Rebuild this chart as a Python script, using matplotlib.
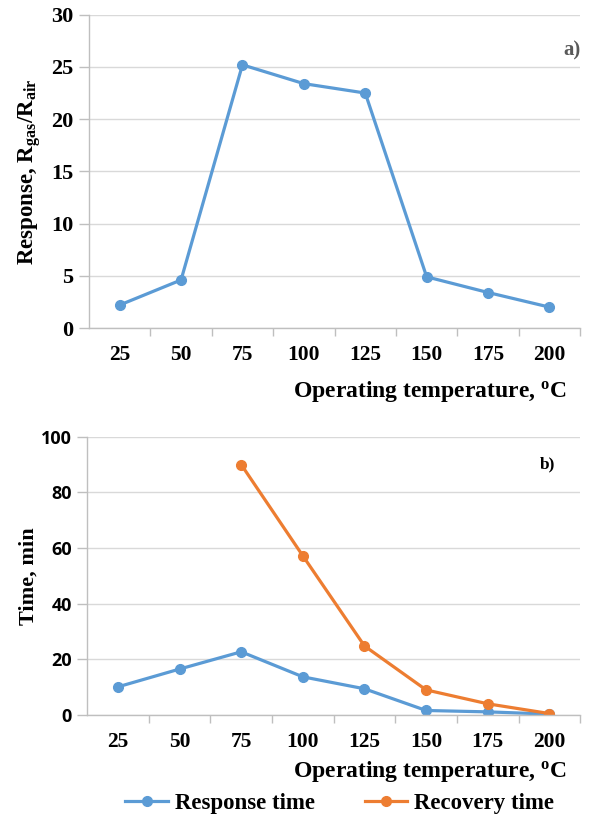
#!/usr/bin/env python3
"""Gas sensor response and response/recovery time vs operating temperature."""

import matplotlib.pyplot as plt
from matplotlib.lines import Line2D

plt.rcParams["mathtext.fontset"] = "custom"
plt.rcParams["mathtext.rm"] = "Liberation Serif:bold"
plt.rcParams["mathtext.it"] = "Liberation Serif:bold:italic"
plt.rcParams["mathtext.bf"] = "Liberation Serif:bold"

temps = ["25", "50", "75", "100", "125", "150", "175", "200"]
response = [2.2, 4.6, 25.2, 23.4, 22.5, 4.9, 3.4, 2.0]
response_time = [10.1, 16.5, 22.7, 13.7, 9.4, 1.6, 1.1, 0.3]
recovery_temps = ["75", "100", "125", "150", "175", "200"]
recovery_time = [90.0, 57.2, 24.8, 9.0, 4.0, 0.5]

BLUE = "#5B9BD5"
ORANGE = "#ED7D31"
GRID = "#d9d9d9"
AXIS = "#bfbfbf"
SERIF = "Liberation Serif"


def style_axes(ax, ylim, yticks, ytick_family, ytick_size):
    ax.set_xlim(-0.5, len(temps) - 0.5)
    ax.set_ylim(*ylim)
    ax.set_yticks(yticks)
    ax.set_xticks(range(len(temps)))
    ax.set_xticklabels(temps, family=SERIF, weight="bold", fontsize=15.5)
    ax.set_xticks([i + 0.5 for i in range(len(temps))], minor=True)
    ax.tick_params(axis="x", which="major", length=0, pad=12)
    ax.tick_params(axis="x", which="minor", length=6, color=AXIS, width=1)
    ax.tick_params(axis="y", length=7, color=AXIS, width=1, pad=4)
    for lab in ax.get_yticklabels():
        lab.set_family(ytick_family)
        lab.set_weight("bold")
        lab.set_fontsize(ytick_size)
    ax.grid(axis="y", color=GRID, linewidth=1)
    ax.set_axisbelow(True)
    for side in ("top", "right"):
        ax.spines[side].set_visible(False)
    for side in ("left", "bottom"):
        ax.spines[side].set_color(AXIS)
        ax.spines[side].set_linewidth(1)


def main():
    fig = plt.figure(figsize=(5.89, 8.18), dpi=100)
    ax1 = fig.add_axes([0.151, 0.599, 0.834, 0.383])
    ax2 = fig.add_axes([0.148, 0.126, 0.837, 0.340])

    xs = range(len(temps))
    line_kw = dict(linewidth=2.3, marker="o", markersize=7)

    ax1.plot(xs, response, color=BLUE, **line_kw)
    style_axes(ax1, (0, 30), range(0, 31, 5), SERIF, 16)
    ax1.set_ylabel("Response, R$_{\\mathregular{gas}}$/R$_{\\mathregular{air}}$",
                   family=SERIF, weight="bold", fontsize=16.5, labelpad=6)
    ax1.text(1.0, 0.885, "a)", transform=ax1.transAxes, ha="right", va="center",
             family=SERIF, weight="bold", fontsize=15, color="#595959")
    fig.text(0.962, 0.521, "Operating temperature, $^{\\mathregular{o}}$C", ha="right",
             va="center", family=SERIF, weight="bold", fontsize=17)

    ax2.plot(xs, response_time, color=BLUE, **line_kw)
    rec_x = [temps.index(t) for t in recovery_temps]
    ax2.plot(rec_x, recovery_time, color=ORANGE, **line_kw)
    style_axes(ax2, (0, 100), range(0, 101, 20), "Open Sans", 13)
    ax2.set_ylabel("Time, min", family=SERIF, weight="bold", fontsize=16, labelpad=2)
    ax2.text(0.95, 0.9, "b)", transform=ax2.transAxes, ha="right", va="center",
             family=SERIF, weight="bold", fontsize=12.5)
    fig.text(0.962, 0.057, "Operating temperature, $^{\\mathregular{o}}$C",
             ha="right", va="center", family=SERIF, weight="bold", fontsize=17)

    handles = [
        Line2D([], [], color=BLUE, **line_kw),
        Line2D([], [], color=ORANGE, **line_kw),
    ]
    fig.legend(handles, ["Response time", "Recovery time"], loc="center",
               bbox_to_anchor=(0.577, 0.018), ncol=2, frameon=False,
               prop=dict(family=SERIF, weight="bold", size=16.5),
               handlelength=1.85, columnspacing=2.2, handletextpad=0.3)

    fig.savefig("out.png", dpi=100)
    plt.close(fig)


if __name__ == "__main__":
    main()
